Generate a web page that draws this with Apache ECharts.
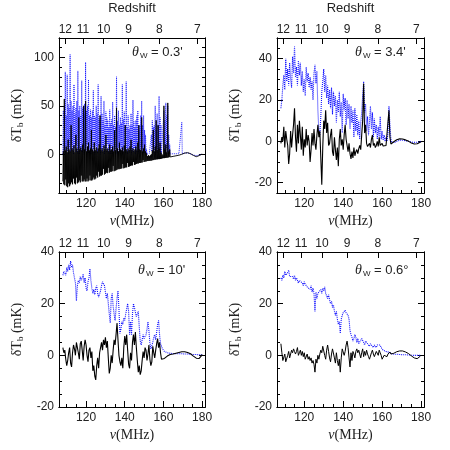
<!DOCTYPE html>
<html><head><meta charset="utf-8">
<script src="https://cdn.jsdelivr.net/npm/echarts@6/dist/echarts.min.js"></script>
<style>html,body{margin:0;padding:0;background:#fff}#c{width:450px;height:450px}</style>
</head><body><div id="c"></div><script>
// ---- data ----
// panel 1 sampled every 0.25 MHz from 108 MHz; panels 2-4 every 0.5 MHz from 108 MHz
const freqStart = 108;
const p1FreqStep = 0.25;
const freqStep = 0.5;
const REST_MHZ = 1420.4;
const freqMajorTicks = [120, 140, 160, 180];
const freqMinorTicks = [110,115,120,125,130,135,140,145,150,155,160,165,170,175,180];
const redshiftTicks = [12, 11, 10, 9, 8, 7];
const panelLabels = ["0.3'", "3.4'", "10'", "0.6°"];

const p1Blue = [
 0,45,2,50,5,85,1,40,8,82,3,52,0,48,6,103,2,55,10,45,
 4,50,0,72,7,42,2,48,9,55,1,86,5,45,0,50,6,40,3,76,
 2,48,8,42,0,52,5,95,3,45,10,50,1,77,6,40,4,46,0,38,
 7,45,2,66,5,40,0,38,8,50,3,42,1,72,9,36,4,40,0,60,
 5,42,2,35,8,55,0,30,6,44,3,38,10,35,1,28,4,46,0,32,
 6,36,0,54,3,30,8,40,2,28,5,80,0,34,7,45,2,30,9,38,
 3,32,6,72,0,36,4,44,9,30,1,75,5,28,0,40,7,26,2,30,
 8,42,0,30,4,56,2,34,6,28,0,35,3,40,9,45,1,25,5,30,
 2,40,7,55,0,30,4,40,1,25,3,20,0,5,0,2,0,1,0,1,
 0,2,0,20,3,35,6,28,1,30,4,50,0,25,7,42,2,30,5,60,
 3,38,0,30,0,2,0,1,2,45,4,35,0,53,6,40,1,50,3,20,
 0,10,0.3,0.4,0.4,0.5,0.5,0.5,0.5,0.5,0.5,0.5,0.5,0.5,0.5,0.5,0.5,0.5,0.5,0.5,
 0.5,0.5,0.5,0.5, 0.5,0.5,33,0.6, 0.8,1.0,1.1,1.2, 1.3,1.4,1.4,1.5, 1.5,1.5,1.4,1.3,
 1.2,1.0,0.8,0.6, 0.4,0.2,0,-0.2, -0.4,-0.6,-0.8,-1.0, -1.2,-1.3,-1.4,-1.5, -1.5,-1.5,-1.4,-1.3,
 -1.2,-1.0,-0.8,-0.6, -0.4,-0.2,0,0.1, 0.2];
const p1Black = [
 -28,3,-31,57,-32,4,-26,8,-33,2,-34,15,-30,5,-33,3,-31,30,-29,6,
 -31,4,-25,9,-30,2,-31,20,-24,6,-30,3,-29,38,-27,5,-29,7,-22,4,
 -28,10,-28,50,-26,5,-28,55,-28,3,-25,8,-28,12,-27,4,-22,6,-27,25,
 -27,5,-26,3,-24,12,-26,4,-25,7,-22,3,-24,6,-18,10,-23,40,-22,4,
 -22,6,-21,3,-15,9,-21,5,-20,20,-19,4,-19.5,6,-14,3,-19,10,-18,4,
 -18,5,-17.5,8,-12,3,-17.5,25,-17,4,-16.5,48,-16,6,-15,3,-15.5,12,-15,5,
 -15,4,-14.5,7,-10,3,-14.5,9,-14,30,-13.5,5,-13.5,3,-9,6,-13,4,-12.5,8,
 -12,15,-11.5,4,-11.5,6,-8,3,-11,5,-10.5,8,-10,4,-9.5,12,-9.5,30,-9,5,
 -9,4,-8.5,38,-8.5,3,-6,6,-8,10,-7.5,3,-7.5,1,-7,-2,-7,-1,-6.8,-2,
 -6.8,-1,-6.5,0,-6.5,4,-6,25,-6,3,-5.5,8,-5.5,35,-5.2,4,-5.2,30,-5,6,
 -5,12,-4.8,2,-4.5,0,-4.2,-1,-4,50,-4,5,-3.8,10,-3.6,2,-3.5,53,-3.3,3,
 -3,5,-2.8,-2.7,-2.6,-2.5,-2.4,-2.3,-2.2,-2.1,-2,-1.9,-1.8,-1.7,-1.6,-1.5,-1.4,-1.3,-1.2,-1.1,
 -1,-0.9,-0.8,-0.6, -0.4,-0.2,0,0.2, 0.4,0.6,0.8,1.0, 1.2,1.3,1.4,1.5, 1.6,1.6,1.6,1.5,
 1.4,1.2,1.0,0.8, 0.6,0.3,0,-0.3, -0.6,-0.9,-1.2,-1.5, -1.8,-2.0,-2.2,-2.4, -2.5,-2.5,-2.4,-2.2,
 -2.0,-1.7,-1.4,-1.1, -0.8,-0.5,-0.2,0, 0.2];
const p2Blue = [
 16,20,27,32,25,40,29,35,27,38,
 30,26,41,33,46,31,36,27,39,32,
 38,27,34,24,30,22,36,29,33,26,
 31,25,29,20,33,37,28,34,15,5,
 3,12,24,29,35,24,32,21,27,18,
 25,16,26,13,24,17,22,9,20,14,
 24,12,19,4,23,15,21,8,20,11,
 18,6,17,9,15,2,16,5,13,3,
 10,1,9,14,22,29,14,18,5,12,
 3,9,17,6,14,2,11,4,8,1,
 7,2,12,1,5,0.5,3,0,2,0,
 4,17,8,1,-0.5,-1,-0.8,-0.5,-0.3,0,
 0.2,0.4,0.5,0.6,0.6,0.6,0.5,0.4,0.3,0.2,
 0.1,0,-0.1,-0.2,-0.3,-0.4,-0.4,-0.5,-0.5,-0.5,
 -0.5,-0.4,-0.3,-0.2,0];
const p2Black = [
 -1,2,0,7,-3,5,1,-2,-11,-6,
 5,-3,3,8,16,2,-5,8,-1,10,
 3,-4,7,-7,1,-3,6,-2,3,0,
 -10,-4,4,-2,6,-1,-4,3,8,2,
 5,-8,-21,-3,10,6,15,4,9,-2,
 -1,3,6,-5,-7,2,-4,-9,-3,-12,
 1,6,-2,1,-4,3,8,1,-2,-5,
 -1,-6,-8.5,-5,-8,-3,-7,-5,-4,-6,
 -3.5,-2,-4,3,10,28,4,8,-1,-2.5,
 -3,-1,-3,1,3,-2,-1,-3,-2,0,
 -2.5,2,-2,-2.5,-1,-2.3,-2,-2.2,-2,-2.5,
 -1.5,15,2,-1.3,-1,-0.6,-0.2,0.2,0.5,0.8,
 1,1.1,1.2,1.2,1.2,1.1,1,0.9,0.7,0.5,
 0.3,0.1,-0.2,-0.5,-0.8,-1,-1.2,-1.3,-1.3,-1.3,
 -1.2,-1,-0.8,-0.5,-0.2];
const p3Blue = [
 31,32.5,33,31,34,32.5,35,33,36.5,34,
 35,32,30,28,21,27,29,28,30.5,29,
 30,31.5,28,30,26,25,28.5,30,33.5,29,
 26,24,25.5,23.5,26,27,24,22.5,22,25,
 27,28.5,29,27,24.5,22,24,20,16,12.5,
 22,24,19,16,13.5,18,22,25,18,8.5,
 10,13,12,14.5,13.5,16,18,20,17,8,
 13,8,16,20,18.5,19,15,16,17,11,
 5.5,4,6,8,6.5,7,8,10,13,9.5,
 5,2.5,2,5,7,8,6,9,12,13.5,
 8,4.5,3.5,2.5,2,1.5,1.3,1,1,0.9,
 0.8,0.8,0.7,0.7,0.7,0.6,0.6,0.6,0.6,0.6,
 0.6,0.6,0.6,0.6,0.5,0.5,0.5,0.5,0.5,0.5,
 0.5,0.4,0.4,0.4,0.4,0.3,0.3,0.3,0.3,0.3,
 0.3,0.2,0.2,0.2,0.2];
const p3Black = [
 3,1,2,-1.5,-4,-2,1,3,-3,-4.5,
 1,4,2.5,0,5,3,1,-1.5,4.5,5.5,
 2,-2,3.5,6,4,0,-2.5,2,3,-1,
 1.5,-6,-4,-8,-9.5,-4,-1,-5,1,3,
 5,2,6,4,7,3,5.5,-1,-7,-5,
 0,-3,2,6,4,8,12.5,6,0,-2.5,
 -4,-1,-5,3,7.5,4,8,2,-3.5,-5,
 1,-2,5,8,4,9,3,-2,-6.5,-4,
 -7.5,-6,-2,1.5,-1,3,2,-2,0.5,4,
 -1.5,-4,-2.5,3.5,1,-1,2,4.5,6.5,3,
 5,1,-1.5,-2,-2,-1.2,-0.5,-0.5,-0.3,0,
 0.2,0.3,0.3,0.4,0.5,0.6,0.7,0.8,0.9,1,
 1.1,1.2,1.3,1.4,1.4,1.4,1.4,1.3,1.2,1.1,
 1,0.8,0.6,0.3,0,-0.3,-0.6,-0.9,-1.1,-1.3,
 -1.4,-1.2,-0.8,-0.3,0.3];
const p4Blue = [
 30,29,31,30,32.5,31,30.5,32,33,30.5,
 31,30,30.5,29.5,31,29,30,29.5,28,29,
 28.5,29.5,28,27,28.5,27.5,28,26.5,27,26,
 25.5,27,24.5,26,24,17,24.5,22,24,23.5,
 24.5,25.5,24,26,25,26.5,24,23,22,23.5,
 21.5,20,21,18.5,19.5,17,15.5,17,14,12,
 13,8.5,14,15.5,16.5,16,17.5,16.5,17,15.5,
 14,9.5,8,7,5.5,6.5,8,7,5,6.5,
 4.5,5,4,6.5,7,5,4,5.5,6,4.5,
 4,3.5,4.5,5,4,3,4,3.5,3,4,
 3.5,4.5,4,3,2.5,2,2.5,2,1.5,1.8,
 1.5,1.2,1,0.8,0.6,0.5,0.5,0.4,0.4,0.4,
 0.4,0.3,0.3,0.3,0.3,0.2,0.2,0.2,0.2,0.2,
 0.2,0.1,0.1,0.1,0.1,0,0,0,0,0,
 0,0,0,0,0];
const p4Black = [
 4.5,1,-2,-1.5,0.5,-2.5,-3,0,1.5,-1,
 0.5,2,1,2.5,1.5,0.5,1.5,3,0,1,
 2,0,1.5,-0.5,1,-1.5,-1,0.5,-1.5,-0.5,
 -2,-1,-3,-2,-3.5,-6.5,-1.5,-3,0,-1.5,
 0.5,2,1,3.5,4,0,-1.5,2,4,1.5,
 -1,-2.5,0.5,2.5,3,-1,-3,1,-2,-4,
 -1.5,-6.5,-1,2.5,3,0,1.5,4,5.5,3,
 -1,-4.5,1,-2,1.5,0.5,-1,1.5,2.5,1,
 2,0.5,-1,1,2.5,-0.5,1.5,0,2,0.5,
 -0.5,-1.5,-1,1,2,0.5,-0.5,0,1.5,1,
 0,2,1,0,-1.5,-1,0,0.5,0,-0.5,
 0.5,1,1.3,0.5,0,0.5,0.8,1,1.2,1.4,
 1.5,1.6,1.7,1.8,1.8,1.7,1.6,1.5,1.3,1.1,
 0.9,0.7,0.4,0.1,-0.2,-0.5,-0.8,-1,-1.2,-1.3,
 -1.3,-1.1,-0.8,-0.4,0];

// ---- layout ----
const X_MIN = 106, X_MAX = 181.5;
const panels = [
  {rect:{left:59, top:38, width:146, height:155}, yMin:-40, yMax:120, major:[0,50,100], minor:[-40,-30,-20,-10,0,10,20,30,40,50,60,70,80,90,100,110,120], blue:p1Blue, black:p1Black, step:p1FreqStep, redshiftName:true, lab:{left:132, top:45}, bw:0.9, kw:0.9},
  {rect:{left:277, top:38, width:147, height:155}, yMin:-25, yMax:50, major:[-20,0,20,40], minor:[-25,-20,-15,-10,-5,0,5,10,15,20,25,30,35,40,45,50], blue:p2Blue, black:p2Black, step:freqStep, redshiftName:true, lab:{left:355, top:45}, bw:1.1, kw:1.1},
  {rect:{left:59, top:252, width:146, height:155}, yMin:-20, yMax:40, major:[-20,0,20,40], minor:[-20,-15,-10,-5,0,5,10,15,20,25,30,35,40], blue:p3Blue, black:p3Black, step:freqStep, redshiftName:false, lab:{left:138, top:263}, bw:1.1, kw:1.1},
  {rect:{left:277, top:252, width:147, height:155}, yMin:-20, yMax:40, major:[-20,0,20,40], minor:[-20,-15,-10,-5,0,5,10,15,20,25,30,35,40], blue:p4Blue, black:p4Black, step:freqStep, redshiftName:false, lab:{left:355, top:263}, bw:1.1, kw:1.0}
];

const redshiftNu = redshiftTicks.map(z => REST_MHZ / (1 + z));
const FONT = 'Liberation Sans';
const SERIF = 'Liberation Serif';
const lineCol = '#000';

const grids = [], xAxes = [], yAxes = [], series = [], titles = [];
const toPairs = (arr, step) => arr.map((v, i) => [freqStart + i * step, v]);

panels.forEach((p, g) => {
  grids.push(Object.assign({containLabel:false}, p.rect));
  const xBase = {gridIndex:g, type:'value', min:X_MIN, max:X_MAX, splitLine:{show:false},
    axisLine:{show:true, onZero:false, lineStyle:{color:lineCol, width:1}}};
  xAxes.push(Object.assign({}, xBase, {position:'bottom',
    axisTick:{show:true, inside:true, length:3, customValues:freqMinorTicks, lineStyle:{color:lineCol}},
    axisLabel:{show:false}}));
  xAxes.push(Object.assign({}, xBase, {position:'bottom',
    axisTick:{show:true, inside:true, length:6, customValues:freqMajorTicks, lineStyle:{color:lineCol}},
    axisLabel:{show:true, customValues:freqMajorTicks, fontFamily:FONT, fontSize:12, color:'#222', margin:5},
    name:'{i|ν}{n|(MHz)}', nameLocation:'middle', nameGap:21,
    nameTextStyle:{rich:{i:{fontFamily:SERIF, fontStyle:'italic', fontSize:14, color:'#222'}, n:{fontFamily:SERIF, fontSize:14, color:'#222'}}}}));
  xAxes.push(Object.assign({}, xBase, {position:'top',
    axisTick:{show:true, inside:true, length:6, customValues:redshiftNu, lineStyle:{color:lineCol}},
    axisLabel:{show:true, customValues:redshiftNu, fontFamily:FONT, fontSize:12, color:'#222', margin:2,
      formatter: v => String(Math.round(REST_MHZ / v - 1))},
    name: p.redshiftName ? 'Redshift' : '', nameLocation:'middle', nameGap:23,
    nameTextStyle:{fontFamily:FONT, fontSize:13, color:'#222'}}));

  const yBase = {gridIndex:g, type:'value', min:p.yMin, max:p.yMax, splitLine:{show:false},
    axisLine:{show:true, onZero:false, lineStyle:{color:lineCol, width:1}}};
  yAxes.push(Object.assign({}, yBase, {position:'left',
    axisTick:{show:true, inside:true, length:3, customValues:p.minor, lineStyle:{color:lineCol}}, axisLabel:{show:false}}));
  yAxes.push(Object.assign({}, yBase, {position:'left',
    axisTick:{show:true, inside:true, length:6, customValues:p.major, lineStyle:{color:lineCol}},
    axisLabel:{show:true, customValues:p.major, fontFamily:FONT, fontSize:12, color:'#222', margin:5},
    name:'{n|δT}{s|b}{n| (mK)}', nameLocation:'middle', nameRotate:90, nameGap:33,
    nameTextStyle:{rich:{n:{fontFamily:SERIF, fontSize:14, color:'#222', lineHeight:18}, s:{fontFamily:SERIF, fontSize:9, color:'#222', padding:[8,0,0,0], lineHeight:10}}}}));
  yAxes.push(Object.assign({}, yBase, {position:'right',
    axisTick:{show:true, inside:true, length:3, customValues:p.minor, lineStyle:{color:lineCol}}, axisLabel:{show:false}}));
  yAxes.push(Object.assign({}, yBase, {position:'right',
    axisTick:{show:true, inside:true, length:6, customValues:p.major, lineStyle:{color:lineCol}}, axisLabel:{show:false}}));

  series.push({type:'line', xAxisIndex:3*g+1, yAxisIndex:4*g+1, data:toPairs(p.blue, p.step), symbol:'none',
    lineStyle:{color:'#1010ff', width:p.bw, type:[1,1]}, z:2});
  series.push({type:'line', xAxisIndex:3*g+1, yAxisIndex:4*g+1, data:toPairs(p.black, p.step), symbol:'none',
    lineStyle:{color:'#000', width:p.kw}, z:3});

  titles.push({text:'{t|θ}{s|W}{n| = ' + panelLabels[g] + '}', left:p.lab.left, top:p.lab.top, padding:0,
    textStyle:{fontWeight:'normal', rich:{t:{fontFamily:SERIF, fontStyle:'italic', fontWeight:'normal', fontSize:14, color:'#222'},
      s:{fontFamily:FONT, fontWeight:'normal', fontSize:8, color:'#222', padding:[7,0,0,1]},
      n:{fontFamily:FONT, fontWeight:'normal', fontSize:13, color:'#222'}}}});
});

const chart = echarts.init(document.getElementById('c'), null, {renderer:'canvas'});
chart.setOption({animation:false, backgroundColor:'#fff', title:titles, grid:grids, xAxis:xAxes, yAxis:yAxes, series:series});
</script></body></html>
